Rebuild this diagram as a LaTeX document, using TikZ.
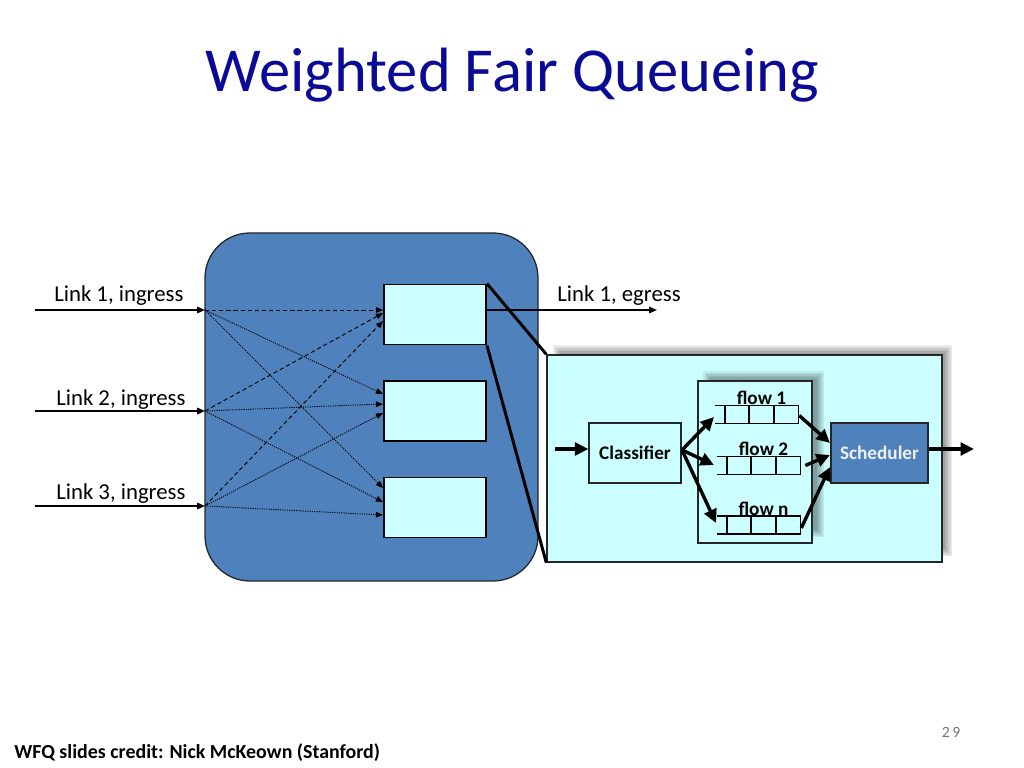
\documentclass[tikz,border=0pt]{standalone}
\usepackage{fontspec}
\setmainfont{Carlito}
\usetikzlibrary{arrows.meta,calc}
\definecolor{titleblue}{RGB}{10,10,150}
\definecolor{boxblue}{RGB}{79,129,189}
\definecolor{lcyan}{RGB}{204,255,255}
\def\u{0.703125pt}
\begin{document}
\begin{tikzpicture}[x=0.703125pt,y=-0.703125pt,
  router/.style={draw=black!85, line width=0.9pt, fill=boxblue, rounded corners=45*\u, minimum width=333*\u, minimum height=348*\u, inner sep=0pt},
  qbox/.style={draw=black, line width=1.3pt, fill=lcyan, minimum width=102*\u, minimum height=60*\u, inner sep=0pt},
  panel/.style={draw=black!85, line width=1pt, fill=lcyan, inner sep=0pt},
  fifo/.style={minimum width=73*\u, minimum height=17*\u, inner sep=0pt},
  lbl/.style={font=\fontsize{16}{19}\selectfont, anchor=base west, inner sep=0pt},
  flbl/.style={font=\fontsize{13.5}{15}\selectfont\bfseries, anchor=base, inner sep=0pt},
  link/.style={line width=1.1pt, -{Triangle[length=5.5pt,width=4.5pt]}},
  cross/.style={line width=0.65pt, -{Triangle[length=5pt,width=4pt]}},
  fat/.style={line width=2.4pt, -{Triangle[length=9.5pt,width=9pt]}},
  zoomline/.style={line width=2.1pt},
  shadowlayer/.style={fill=black, opacity=0.075}
]
\useasboundingbox (0,0) rectangle (1024,768);

% title
\node[font=\fontsize{44}{50}\selectfont, text=titleblue, anchor=base, inner sep=0pt] (title) at (512.5,92) {Weighted Fair Queueing};

% router
\node[router] (router) at (371.5,407) {};
\node[qbox] (b1) at (435,314.5) {};
\node[qbox] (b2) at (435,411) {};
\node[qbox] (b3) at (435,507.5) {};

% ingress links
\coordinate (i1) at (35,310);
\coordinate (i2) at (35,411);
\coordinate (i3) at (35,506);
\coordinate (r1) at (205,310);
\coordinate (r2) at (205,411);
\coordinate (r3) at (205,506);
\draw[link] (i1) -- (r1);
\draw[link] (i2) -- (r2);
\draw[link] (i3) -- (r3);
\node[lbl] (l1) at (54,302) {Link 1, ingress};
\node[lbl] (l2) at (56,405) {Link 2, ingress};
\node[lbl] (l3) at (56,499) {Link 3, ingress};

% switch fabric
\coordinate (t11) at (383,310);
\coordinate (t21) at (383,313);
\coordinate (t31) at (383,321);
\coordinate (t12) at (383,394);
\coordinate (t22) at (383,404);
\coordinate (t32) at (383,413);
\coordinate (t13) at (383,488);
\coordinate (t23) at (383,502);
\coordinate (t33) at (383,515);
\draw[cross, dash pattern=on 3pt off 2pt] (r1) -- (t11);
\draw[cross, dash pattern=on 3pt off 2pt] (r2) -- (t21);
\draw[cross, dash pattern=on 3pt off 2pt] (r3) -- (t31);
\draw[cross, dash pattern=on 0.8pt off 0.8pt] (r1) -- (t12);
\draw[cross, dash pattern=on 0.8pt off 0.8pt] (r2) -- (t22);
\draw[cross, dash pattern=on 0.8pt off 0.8pt] (r3) -- (t32);
\draw[cross, dash pattern=on 0.8pt off 0.8pt] (r1) -- (t13);
\draw[cross, dash pattern=on 0.8pt off 0.8pt] (r2) -- (t23);
\draw[cross, dash pattern=on 0.8pt off 0.8pt] (r3) -- (t33);

% egress
\coordinate (e1) at (657,310);
\draw[link] ($(b1.east)+(0,-4.5)$) -- (e1);
\node[lbl] (le) at (557,302) {Link 1, egress};

% panel shadow (soft)
\foreach \k in {0,1.5,3,4.5,6,7.5} {
  \fill[shadowlayer] (553+\k,345+\k) rectangle (952-\k,556-\k);
}
\node[panel, minimum width=395*\u, minimum height=207*\u] (panel) at (744.5,458.5) {};

\draw[line width=1.1pt] ($(b2.east)+(0,1)$) -- ($(b2.east)+(0,1)$ -| panel.west);
\draw[line width=1.1pt] ($(b3.east)+(0,-1.5)$) -- ($(b3.east)+(0,-1.5)$ -| panel.west);

% zoom lines
\draw[zoomline] (b1.north east) -- (panel.north west);
\draw[zoomline] (b1.south east) -- (panel.south west);

% flows box shadow (soft)
\foreach \k in {0,1.5,3,4.5,6,7.5} {
  \fill[shadowlayer] (703+\k,371+\k) rectangle (824-\k,537-\k);
}
\node[panel, fill=lcyan, minimum width=114*\u, minimum height=162*\u] (flows) at (755,462) {};

% classifier & scheduler
\node[panel, line width=0.9pt, minimum width=92*\u, minimum height=60*\u, font=\fontsize{13.5}{16}\selectfont\bfseries] (cls) at (635,453) {Classifier};
\node[panel, line width=0.9pt, fill=boxblue, text=white!94!black, minimum width=97*\u, minimum height=60*\u, font=\fontsize{13.5}{16}\selectfont\bfseries] (sch) at (879.5,453) {Scheduler};

\coordinate (cin) at (555,449);
\draw[fat] (cin) -- ($(cls.west)+(0,-4)$);
\coordinate (sout) at (974,449);
\draw[fat] ($(sch.east)+(0,-4)$) -- (sout);

% fifo queues
\node[fifo] (q1) at (761.5,414.5) {};
\node[fifo] (q2) at (763.5,465.5) {};
\node[fifo] (q3) at (763.5,525) {};
\foreach \q in {q1,q2,q3} {
  \draw[line width=1.1pt] ($(\q.north west)+(-10,0)$) -- (\q.north east) -- (\q.south east) -- ($(\q.south west)+(-10,0)$);
  \draw[line width=1.1pt] (\q.north west) -- (\q.south west);
  \draw[line width=1.1pt] ($(\q.north west)!1/3!(\q.north east)$) -- ($(\q.south west)!1/3!(\q.south east)$);
  \draw[line width=1.1pt] ($(\q.north west)!2/3!(\q.north east)$) -- ($(\q.south west)!2/3!(\q.south east)$);
}
\node[flbl] (f1) at ($(q1.north)+(0,-1)$) {flow 1};
\node[flbl] (f2) at ($(q2.north)+(0,-1)$) {flow 2};
\node[flbl] (f3) at ($(q3.north)+(0,-1)$) {flow n};

% classifier -> queues
\coordinate (c0) at (682,450);
\coordinate (a1) at (714,417);
\coordinate (a2) at (714,465);
\coordinate (a3) at (716,523);
\draw[fat] (c0) -- (a1);
\draw[fat] (c0) -- (a2);
\draw[fat] (c0) -- (a3);

% queues -> scheduler
\coordinate (s1) at (830,443);
\coordinate (s2) at (830,455);
\coordinate (s3) at (830,467);
\draw[fat] ($(q1.east)+(1,1)$) -- (s1);
\draw[fat] ($(q2.east)+(5,0)$) -- (s2);
\draw[fat] ($(q3.east)+(1,3)$) -- (s3);

% footer
\node[font=\fontsize{14}{16}\selectfont\bfseries, anchor=base west, inner sep=0pt] (credit) at (14,758) {WFQ slides credit: Nick McKeown (Stanford)};
\node[font=\fontsize{11}{13}\selectfont, text=black!55, anchor=base, inner sep=0pt] (pg) at (951,737) {2\,9};
\end{tikzpicture}
\end{document}
